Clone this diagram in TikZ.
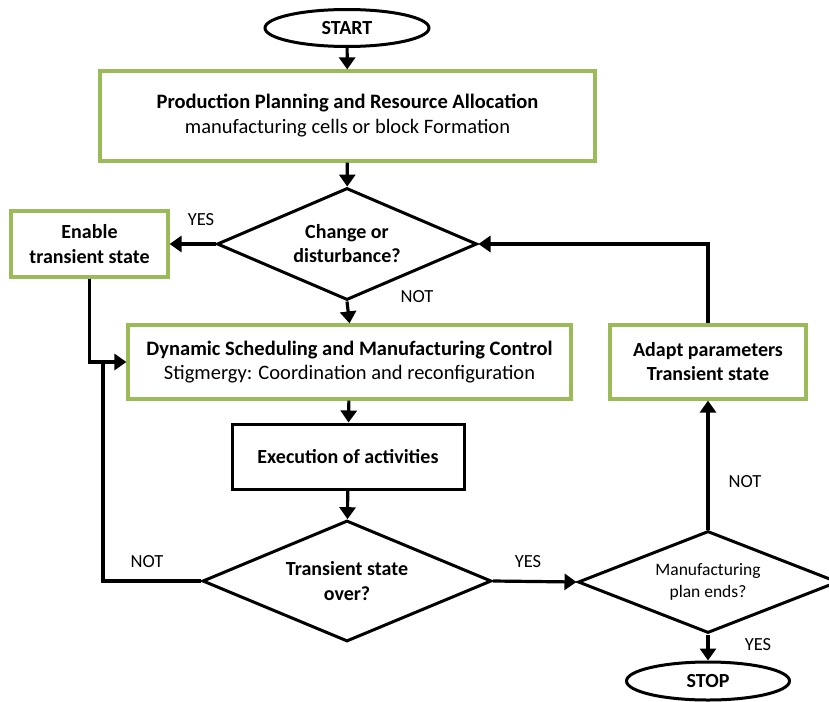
\documentclass[tikz,border=0pt]{standalone}
\usepackage{fontspec}
\setmainfont{Carlito}
\usetikzlibrary{shapes.geometric,arrows.meta}
\definecolor{boxgreen}{RGB}{155,187,89}

\begin{document}
\begin{tikzpicture}[x=1pt,y=-1pt,
	greenbox/.style={draw=boxgreen,line width=3.2pt,align=center,inner sep=0pt},
	blackbox/.style={draw=black,line width=3pt,align=center,inner sep=0pt},
	terminal/.style={ellipse,draw=black,line width=3pt,inner sep=0pt,font=\fontsize{20}{24}\selectfont\bfseries},
	choice/.style={diamond,draw=black,line width=3pt,align=center,inner sep=0pt,aspect=2.4},
	arr/.style={line width=3.2pt,-{Triangle[length=12pt,width=16pt]}},
	link/.style={line width=3.2pt},
	answer/.style={font=\fontsize{18.5}{22}\selectfont}]
	\clip (0,0) rectangle (829,701);
	\fill[white] (0,0) rectangle (829,701);
	\coordinate (join) at (103,362);
	% nodes
	\node[terminal,minimum width=164pt,minimum height=37pt] (start) at (347,28) {START};
	\node[greenbox,minimum width=495pt,minimum height=90pt,font=\fontsize{20.5}{25}\selectfont] (plan) at (347.5,116)
		{\textbf{Production Planning and Resource Allocation}\\ manufacturing cells or block Formation};
	\node[choice,minimum width=260pt,minimum height=112pt,font=\fontsize{20}{24}\selectfont\bfseries] (change) at (347,244)
		{Change or\\ disturbance?};
	\node[greenbox,minimum width=157pt,minimum height=66pt,font=\fontsize{20}{25}\selectfont\bfseries] (enable) at (89.5,244)
		{Enable\\ transient state};
	\node[greenbox,minimum width=443pt,minimum height=74pt,font=\fontsize{20.5}{23.5}\selectfont] (sched) at (349.5,362)
		{\textbf{Dynamic Scheduling and Manufacturing Control}\\ Stigmergy: Coordination and reconfiguration};
	\node[blackbox,minimum width=232pt,minimum height=65pt,font=\fontsize{20}{24}\selectfont\bfseries] (exec) at (348,456.5)
		{Execution of activities};
	\node[choice,minimum width=289pt,minimum height=121pt,font=\fontsize{20}{25}\selectfont\bfseries] (over) at (347,581)
		{Transient state\\ over?};
	\node[choice,minimum width=260pt,minimum height=102pt,font=\fontsize{17.5}{21.5}\selectfont] (ends) at (708,582)
		{Manufacturing\\ plan ends?};
	\node[greenbox,minimum width=196pt,minimum height=74pt,font=\fontsize{20}{24}\selectfont\bfseries] (adapt) at (708,362)
		{Adapt parameters\\ Transient state};
	\node[terminal,minimum width=163pt,minimum height=38pt] (stop) at (708,681) {STOP};
	% connectors
	\draw[arr] (start) -- (plan);
	\draw[arr] (plan) -- (change);
	\draw[arr] (change.west) -- (enable.east);
	\draw[arr] (change.south) -- (sched.north);
	\draw[arr] (enable.south) |- (sched.west);
	\draw[link] (over.west) -| (join);
	\draw[arr] (sched) -- (exec);
	\draw[arr] (exec) -- (over);
	\draw[arr] (over.east) -- (ends.west);
	\draw[arr] (ends.north) -- (adapt.south);
	\draw[arr] (adapt.north) |- (change.east);
	\draw[arr] (ends.south) -- (stop.north);
	% labels
	\node[answer] (yes1) at (201,220) {YES};
	\node[answer] (not1) at (417,297) {NOT};
	\node[answer] (not2) at (147,562) {NOT};
	\node[answer] (yes2) at (528,562) {YES};
	\node[answer] (not3) at (745,482) {NOT};
	\node[answer] (yes3) at (758,645) {YES};
\end{tikzpicture}
\end{document}
